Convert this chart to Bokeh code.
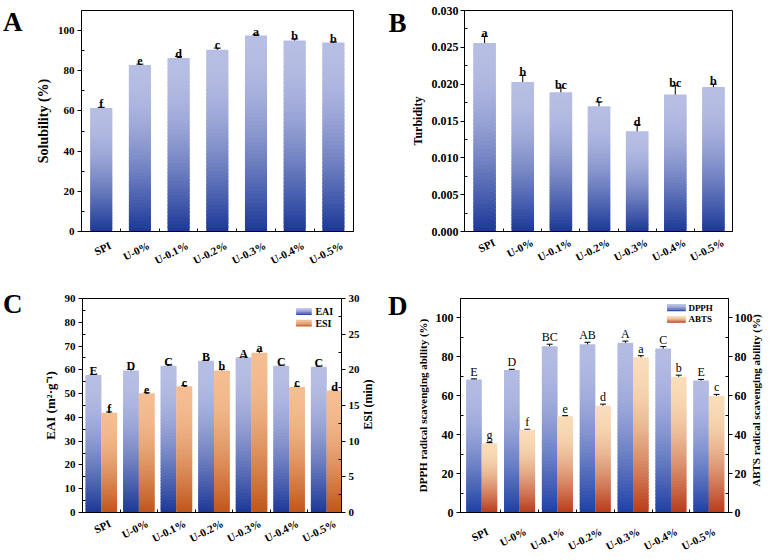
import math
from bokeh.plotting import figure
from bokeh.models import (Range1d, LinearAxis, FixedTicker, Whisker,
                          ColumnDataSource, PrintfTickFormatter)
from bokeh.layouts import row, column
from bokeh.embed import file_html
from bokeh.resources import INLINE
from bokeh.core.properties import value

FONT = "Liberation Serif"

# ---------------- data ----------------
categories = ["SPI", "U-0%", "U-0.1%", "U-0.2%", "U-0.3%", "U-0.4%", "U-0.5%"]

solubility = [61.5, 82.9, 86.3, 90.5, 97.6, 95.1, 94.1]
solubility_err = [0.3, 0.4, 0.8, 0.8, 0.3, 0.8, 0.3]
solubility_letters = ["f", "e", "d", "c", "a", "b", "b"]

turbidity = [0.0256, 0.0203, 0.0189, 0.0170, 0.0136, 0.0186, 0.0196]
turbidity_err = [0.0009, 0.0009, 0.0006, 0.0006, 0.0009, 0.0012, 0.0004]
turbidity_letters = ["a", "b", "bc", "c", "d", "bc", "b"]

eai = [57.8, 59.7, 61.7, 63.8, 65.3, 61.7, 61.3]
eai_err = [0.3, 0.5, 0.5, 0.3, 0.2, 0.3, 0.3]
eai_letters = ["E", "D", "C", "B", "A", "C", "C"]
esi = [14.0, 16.7, 17.7, 19.9, 22.4, 17.6, 17.1]
esi_err = [0.1, 0.1, 0.1, 0.15, 0.2, 0.1, 0.1]
esi_letters = ["f", "e", "c", "b", "a", "c", "d"]

dpph = [68.4, 73.3, 85.5, 86.5, 87.3, 84.3, 67.8]
dpph_err = [0.3, 0.3, 1.0, 1.0, 0.8, 1.0, 0.6]
dpph_letters = ["E", "D", "BC", "AB", "A", "C", "E"]
abts = [35.6, 42.5, 49.5, 54.9, 79.8, 69.8, 59.9]
abts_err = [0.4, 0.3, 0.3, 0.8, 0.8, 0.8, 0.8]
abts_letters = ["g", "f", "e", "d", "a", "b", "c"]

# ---------------- colours ----------------
BLUE_DARK, BLUE_LIGHT = "#1b3898", "#b7bee4"
OR_C_DARK, OR_C_LIGHT = "#c0561b", "#f4be92"
BLUE_D_DARK, BLUE_D_LIGHT = "#1e40a6", "#b3bbe3"
OR_D_DARK, OR_D_LIGHT = "#b83c1c", "#f9dcb8"

# approximate advance widths (em) of a bold Times-like face (to centre rotated titles)
BOLD_W = {"S": .556, "P": .611, "I": .389, "U": .722, "-": .333, "0": .5, "%": 1.0,
          ".": .25, "A": .722, "B": .667, "T": .667, "E": .667, " ": .25, "(": .333,
          ")": .333, "m": .833, "i": .278, "n": .556, "r": .444, "a": .5, "d": .556,
          "c": .444, "l": .278, "s": .389, "v": .5, "e": .444, "g": .5, "b": .556,
          "t": .333, "y": .5}


def text_w(s, size):
    return sum(BOLD_W.get(ch, 0.5) for ch in s) * size


def mix(c0, c1, t):
    s = math.sin(t * math.pi / 2)
    a = [int(c0[i:i + 2], 16) for i in (1, 3, 5)]
    b = [int(c1[i:i + 2], 16) for i in (1, 3, 5)]
    return "#%02x%02x%02x" % tuple(round(a[i] + (b[i] - a[i]) * s) for i in range(3))


def gradient_bars(p, xs, vals, width, c0, c1, n=48, **kw):
    L, R, B, T, C = [], [], [], [], []
    for x, v in zip(xs, vals):
        for k in range(n):
            L.append(x - width / 2)
            R.append(x + width / 2)
            B.append(v * k / n)
            T.append(min(v, v * (k + 1.6) / n))
            C.append(mix(c0, c1, (k + 0.5) / n))
    p.quad(left=L, right=R, bottom=B, top=T, fill_color=C, line_color=None, **kw)


def gradient_rect(p, x0, x1, y0, y1, c0, c1, n=10, **kw):
    L, R, B, T, C = [], [], [], [], []
    for k in range(n):
        L.append(x0)
        R.append(x1)
        B.append(y0 + (y1 - y0) * k / n)
        T.append(min(y1, y0 + (y1 - y0) * (k + 1.6) / n))
        C.append(mix(c0, c1, (k + 0.5) / n))
    p.quad(left=L, right=R, bottom=B, top=T, fill_color=C, line_color=None, **kw)


def whiskers(p, xs, vals, errs, cap=7, **kw):
    src = ColumnDataSource(dict(x=xs, upper=[v + e for v, e in zip(vals, errs)],
                                lower=[v - e for v, e in zip(vals, errs)]))
    w = Whisker(source=src, base="x", upper="upper", lower="lower",
                line_color="black", line_width=1, **kw)
    for h in (w.upper_head, w.lower_head):
        h.size = cap
        h.line_width = 1
        h.line_color = "black"
    p.add_layout(w)


def letters(p, xs, vals, errs, labels, size="12px", style="bold", off=-3, **kw):
    p.text(x=xs, y=[v + e for v, e in zip(vals, errs)], text=labels,
           text_font=value(FONT), text_font_style=style, text_font_size=size,
           text_align="center", text_baseline="alphabetic", y_offset=off,
           text_color="black", **kw)


def font_axis(ax, size, bold=True):
    ax.major_label_text_font = FONT
    ax.major_label_text_font_style = "bold" if bold else "normal"
    ax.major_label_text_font_size = "%dpx" % size
    ax.major_label_text_color = "black"


class Panel:
    """A figure plus the pixel geometry of its frame."""

    def __init__(self, width, height, xr, yr, left, right, top, bottom):
        self.xr, self.yr = xr, yr
        self.fw = width - left - right
        self.fh = height - top - bottom
        p = figure(width=width, height=height, x_range=Range1d(*xr), y_range=Range1d(*yr),
                   output_backend="svg", toolbar_location=None,
                   min_border_left=left, min_border_right=right,
                   min_border_top=top, min_border_bottom=bottom)
        p.grid.visible = False
        p.outline_line_color = "black"
        p.outline_line_alpha = 1.0
        p.outline_line_width = 1
        p.background_fill_color = "white"
        p.border_fill_color = "white"
        self.p = p

    def upx(self):  # data units per pixel on the default y range
        return (self.yr[1] - self.yr[0]) / self.fh

    def x_axis(self, standoff, end_px, angle=0.47, size=11):
        # rotated labels are anchored at their right end; put that end end_px right of the bar
        ppx = self.fw / (self.xr[1] - self.xr[0])
        ticks, over = [], {}
        for i, c in enumerate(categories):
            t = round(i + 1 + end_px / ppx, 4)
            ticks.append(t)
            over[t] = c
        n = len(categories)
        xa = self.p.xaxis[0]
        xa.ticker = FixedTicker(ticks=ticks, minor_ticks=[i + 1.5 for i in range(n - 1)])
        xa.major_label_overrides = over
        xa.major_label_orientation = angle
        xa.major_label_standoff = standoff
        font_axis(xa, size)
        xa.major_tick_out = 0
        xa.major_tick_in = 0
        xa.minor_tick_in = 3
        xa.minor_tick_out = 0
        xa.axis_line_color = "black"
        xa.minor_tick_line_color = "black"

    def _ghost(self, side, tick, text, size, standoff, orientation="horizontal"):
        ax = LinearAxis()
        ax.ticker = FixedTicker(ticks=[tick], minor_ticks=[])
        ax.major_label_overrides = {tick: text}
        ax.axis_line_color = None
        ax.major_tick_line_color = None
        ax.minor_tick_line_color = None
        ax.major_tick_out = 0
        ax.major_tick_in = 0
        ax.major_label_standoff = standoff
        ax.major_label_orientation = orientation
        font_axis(ax, size)
        self.p.add_layout(ax, side)

    def letter(self, text, below_top_px, standoff):
        tick = round(self.yr[1] - below_top_px * self.upx(), 6)
        self._ghost("left", tick, text, 27, standoff)

    def right_title(self, text, size, standoff, center_below_top=None):
        c = self.fh / 2 if center_below_top is None else center_below_top
        start = c + text_w(text, size) / 2
        tick = round(self.yr[1] - start * self.upx(), 6)
        self._ghost("right", tick, text, size, standoff, math.pi / 2)


def style_y(ax, ticks, minor, size=11, label_size="13px", standoff=3, lstandoff=4):
    ax.ticker = FixedTicker(ticks=ticks, minor_ticks=minor)
    ax.major_tick_out = 4
    ax.major_tick_in = 0
    ax.minor_tick_out = 0
    ax.minor_tick_in = 3
    ax.major_tick_line_color = "black"
    ax.minor_tick_line_color = "black"
    ax.axis_line_color = "black"
    font_axis(ax, size)
    ax.axis_label_text_font = FONT
    ax.axis_label_text_font_style = "bold"
    ax.axis_label_text_font_size = label_size
    ax.axis_label_text_color = "black"
    ax.major_label_standoff = standoff
    ax.axis_label_standoff = lstandoff


xs = [i + 1 for i in range(len(categories))]

# ---------------- Panel A ----------------
A = Panel(385, 280, (0.49, 7.52), (0, 110), 78, 32, 10, 48)
pA = A.p
gradient_bars(pA, xs, solubility, 0.57, BLUE_DARK, BLUE_LIGHT)
whiskers(pA, xs, solubility, solubility_err)
letters(pA, xs, solubility, solubility_err, solubility_letters)
pA.yaxis[0].axis_label = "Solubility (%)"
style_y(pA.yaxis[0], [0, 20, 40, 60, 80, 100], [10, 30, 50, 70, 90], 11, "14px")
A.x_axis(13, 9)
A.letter("A", 12, 10)

# ---------------- Panel B ----------------
B = Panel(386, 280, (0.473, 7.50), (0, 0.030), 71, 39, 10, 49)
pB = B.p
gradient_bars(pB, xs, turbidity, 0.59, BLUE_DARK, BLUE_LIGHT)
whiskers(pB, xs, turbidity, turbidity_err)
letters(pB, xs, turbidity, turbidity_err, turbidity_letters)
pB.yaxis[0].axis_label = "Turbidity"
style_y(pB.yaxis[0], [0, 0.005, 0.010, 0.015, 0.020, 0.025, 0.030],
        [0.0025, 0.0075, 0.0125, 0.0175, 0.0225, 0.0275], 12, "12px", 2, 4)
pB.yaxis[0].formatter = PrintfTickFormatter(format="%.3f")
B.x_axis(10, 10)
B.letter("B", 12, 1)

# ---------------- Panel C ----------------
C = Panel(385, 280, (0.5, 7.395), (0, 90), 78, 36, 18, 41)
pC = C.p
pC.extra_y_ranges = {"esi": Range1d(0, 30)}
wC = 0.42
gradient_bars(pC, [x - wC / 2 for x in xs], eai, wC, BLUE_DARK, BLUE_LIGHT)
gradient_bars(pC, [x + wC / 2 for x in xs], esi, wC, OR_C_DARK, OR_C_LIGHT, y_range_name="esi")
whiskers(pC, [x - wC / 2 for x in xs], eai, eai_err, cap=6)
whiskers(pC, [x + wC / 2 for x in xs], esi, esi_err, cap=6, y_range_name="esi")
letters(pC, [x - wC / 2 for x in xs], eai, eai_err, eai_letters)
letters(pC, [x + wC / 2 for x in xs], esi, esi_err, esi_letters, y_range_name="esi")
pC.yaxis[0].axis_label = "EAI (m\u00b2\u00b7g\u207b\u00b9)"
style_y(pC.yaxis[0], list(range(0, 91, 10)), list(range(5, 90, 10)), 11, "13px")
axC = LinearAxis(y_range_name="esi")
style_y(axC, [0, 5, 10, 15, 20, 25, 30], [2.5, 7.5, 12.5, 17.5, 22.5, 27.5], 11, "12px", 3, 4)
pC.add_layout(axC, "right")
C.right_title("ESI (min)", 12, 6)
# legend
gradient_rect(pC, 6.19, 6.60, C.yr[1] - 17 * C.upx(), C.yr[1] - 10 * C.upx(), BLUE_DARK, BLUE_LIGHT)
gradient_rect(pC, 6.19, 6.60, C.yr[1] - 29 * C.upx(), C.yr[1] - 22 * C.upx(), OR_C_DARK, OR_C_LIGHT)
pC.text(x=[6.70, 6.70], y=[C.yr[1] - 13.5 * C.upx(), C.yr[1] - 25.5 * C.upx()],
        text=["EAI", "ESI"], text_font=value(FONT), text_font_style="bold",
        text_font_size="10px", text_baseline="middle", text_align="left", text_color="black")
C.x_axis(10, 9)
C.letter("C", 6, 17)

# ---------------- Panel D ----------------
D = Panel(386, 280, (0.44, 7.52), (0, 110), 71, 40, 17, 43)
pD = D.p
pD.extra_y_ranges = {"abts": Range1d(0, 110)}
wD = 0.41
gradient_bars(pD, [x - wD / 2 for x in xs], dpph, wD, BLUE_D_DARK, BLUE_D_LIGHT)
gradient_bars(pD, [x + wD / 2 for x in xs], abts, wD, OR_D_DARK, OR_D_LIGHT, y_range_name="abts")
whiskers(pD, [x - wD / 2 for x in xs], dpph, dpph_err, cap=6)
whiskers(pD, [x + wD / 2 for x in xs], abts, abts_err, cap=6, y_range_name="abts")
letters(pD, [x - wD / 2 for x in xs], dpph, dpph_err, dpph_letters, "12px", "normal", -7)
letters(pD, [x + wD / 2 for x in xs], abts, abts_err, abts_letters, "12px", "normal", -7,
        y_range_name="abts")
pD.yaxis[0].axis_label = "DPPH radical scavenging ability (%)"
style_y(pD.yaxis[0], [0, 20, 40, 60, 80, 100], [10, 30, 50, 70, 90], 12, "11px")
axD = LinearAxis(y_range_name="abts")
style_y(axD, [0, 20, 40, 60, 80, 100], [10, 30, 50, 70, 90], 12, "11px", 2, 2)
pD.add_layout(axD, "right")
D.right_title("ABTS radical scavenging ability  (%)", 11, 1, 106)
gradient_rect(pD, 5.90, 6.39, D.yr[1] - 13 * D.upx(), D.yr[1] - 6 * D.upx(), BLUE_D_DARK, BLUE_D_LIGHT)
gradient_rect(pD, 5.90, 6.39, D.yr[1] - 25 * D.upx(), D.yr[1] - 18 * D.upx(), OR_D_DARK, OR_D_LIGHT)
pD.text(x=[6.46, 6.46], y=[D.yr[1] - 9.5 * D.upx(), D.yr[1] - 21.5 * D.upx()],
        text=["DPPH", "ABTS"], text_font=value(FONT), text_font_style="bold",
        text_font_size="9px", text_baseline="middle", text_align="left", text_color="black")
D.x_axis(18, 6)
D.letter("D", 8, 6)

layout = column(row(pA, pB), row(pC, pD))
open("out.html", "w").write(file_html(layout, INLINE))
